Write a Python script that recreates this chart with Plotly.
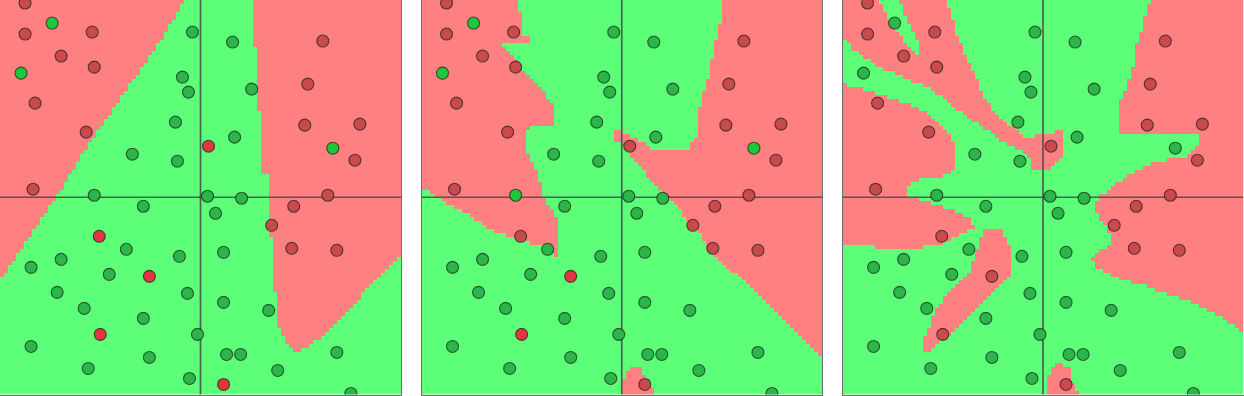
import numpy as np
import plotly.graph_objects as go

# ---------------- data ----------------
# sample points (same in all three panels); label 1 = red class, 0 = green class
pt_x = [-175, -148, -175, -108, -139, -106, -179, -165, -114, -68, -23, -8, -18, -12, -25,
        -167, -106, 8, 7, -57, -101, -74, -139, -169, -21, -91, -51, -143, -13, -116,
        -57, -100, -3, -169, -51, -112, -11, 32, 51, 34, 41, 122, 107, 104, 159,
        132, 154, 127, 15, 93, 71, 23, 91, 136, 23, 68, 26, 40, 136, 77, 23, 150]
pt_y = [194, 174, 163, 165, 141, 130, 124, 94, 65, 43, 36, 165, 120, 105, 75,
        8, 2, 51, 1, -9, -39, -52, -62, -70, -59, -77, -79, -95, -96, -111,
        -121, -137, -137, -149, -160, -171, -181, 155, 108, 60, -1, 156, 113, 72, 73,
        49, 37, 2, -16, -9, -28, -55, -51, -53, -105, -113, -157, -157, -155, -173, -187, -196]
pt_label = [1, 0, 1, 1, 1, 1, 0, 1, 1, 0, 0, 0, 0, 0, 0,
            1, 0, 1, 0, 0, 1, 0, 0, 0, 0, 0, 1, 0, 0, 0,
            0, 1, 0, 0, 0, 0, 0, 0, 0, 0, 0, 1, 1, 1, 1,
            0, 1, 1, 0, 1, 1, 0, 1, 1, 0, 0, 0, 0, 0, 0, 1, 0]

# decision regions (polygons predicted "red"), per panel
panel1_red = [
    [(-205, 202), (-17, 202), (-17, 197), (-27, 177), (-37, 160), (-50, 140), (-67, 117), (-83, 94),
     (-100, 70), (-113, 50), (-127, 27), (-143, 2), (-160, -23), (-180, -53), (-195, -75), (-205, -88)],
    [(52, 202), (205, 202), (205, -56), (200, -56), (187, -69), (173, -82), (160, -99), (147, -112),
     (133, -126), (120, -139), (110, -146), (100, -152), (97, -154), (92, -151), (87, -146), (82, -139),
     (77, -129), (77, -96), (72, -94), (72, -43), (68, -39), (67, -3), (67, 24), (62, 24), (62, 87),
     (57, 87), (57, 150), (52, 150)],
]
panel1_green = []

panel2_red = [
    [(-205, 202), (-103, 202), (-103, 197), (-100, 162), (-93, 160), (-93, 154), (-118, 154), (-118, 149),
     (-110, 141), (-100, 129), (-88, 117), (-75, 102), (-67, 89), (-67, 72), (-93, 70), (-97, 64),
     (-97, 47), (-87, 32), (-82, 17), (-78, 0), (-73, -8), (-67, -18), (-63, -28), (-63, -61),
     (-69, -61), (-71, -53), (-78, -49), (-93, -45), (-110, -40), (-127, -34), (-140, -26),
     (-153, -17), (-167, -11), (-180, -2), (-190, 2), (-195, 7), (-205, 7)],
    [(102, 202), (205, 202), (205, -164), (200, -159), (183, -142), (167, -126), (150, -109),
     (133, -94), (117, -79), (100, -66), (87, -52), (80, -39), (67, -26), (57, -12), (47, 1),
     (40, 4), (27, 20), (13, 37), (3, 50), (-7, 57), (-7, 66), (5, 64), (15, 57), (28, 50),
     (38, 46), (62, 46), (67, 50), (73, 57), (77, 70), (78, 90), (83, 109), (88, 127), (93, 154),
     (98, 174), (102, 197)],
    [(2, -202), (2, -183), (8, -170), (18, -170), (25, -181), (30, -190), (32, -202)],
]
panel2_green = []

panel3_red = [
    [(-205, 202), (-97, 202), (-97, 197), (-93, 187), (-90, 177), (-87, 164), (-80, 150), (-77, 140),
     (-73, 130), (-67, 120), (-63, 110), (-57, 97), (-47, 84), (-37, 74), (-27, 67), (-18, 60),
     (-2, 62), (10, 65), (17, 67), (22, 60), (22, 47), (17, 37), (10, 30), (0, 27), (-10, 29),
     (-13, 40), (-20, 47), (-33, 50), (-43, 57), (-53, 65), (-60, 70), (-70, 75), (-80, 84),
     (-90, 90), (-100, 99), (-110, 107), (-120, 112), (-133, 117), (-143, 122), (-157, 127),
     (-167, 132), (-177, 139), (-187, 145), (-193, 150), (-197, 157), (-205, 160)],
    [(-205, 115), (-193, 112), (-180, 109), (-167, 104), (-153, 100), (-140, 95), (-127, 90),
     (-117, 85), (-110, 80), (-103, 74), (-97, 65), (-90, 57), (-87, 50), (-87, 27), (-90, 27),
     (-100, 22), (-127, 17), (-137, 12), (-137, 2), (-130, -1), (-117, -4), (-107, -7), (-93, -12),
     (-80, -17), (-73, -22), (-68, -29), (-73, -32), (-82, -36), (-90, -39), (-100, -46),
     (-117, -47), (-120, -51), (-167, -51), (-167, -47), (-205, -46)],
    [(-57, -32), (-43, -32), (-38, -39), (-33, -47), (-33, -79), (-40, -86), (-47, -92), (-57, -102),
     (-67, -112), (-77, -122), (-87, -131), (-100, -142), (-110, -151), (-122, -154), (-118, -139),
     (-113, -126), (-107, -112), (-97, -99), (-87, -89), (-77, -79), (-72, -72), (-70, -62),
     (-67, -52), (-63, -42), (-60, -34)],
    [(107, 202), (205, 202), (205, -137), (200, -134), (183, -122), (167, -114), (150, -106),
     (133, -99), (117, -94), (100, -87), (77, -82), (67, -77), (53, -69), (48, -62), (53, -56),
     (67, -46), (67, -36), (60, -26), (53, -16), (53, -6), (57, 1), (60, 4), (67, 7), (73, 15),
     (90, 24), (100, 30), (120, 37), (137, 40), (147, 42), (147, 47), (157, 52), (157, 62),
     (78, 62), (78, 97), (83, 110), (90, 130), (93, 150), (97, 164), (100, 174), (103, 184), (107, 197)],
    [(2, -202), (3, -186), (8, -172), (13, -164), (20, -166), (27, -172), (28, -181), (33, -189), (37, -202)],
]
panel3_green = [
    [(-163, 202), (-143, 202), (-143, 197), (-140, 187), (-135, 177), (-130, 167), (-127, 160),
     (-123, 150), (-122, 140), (-124, 140), (-128, 144), (-133, 149), (-140, 157), (-147, 167),
     (-153, 177), (-160, 187), (-163, 197)],
]

panels = [(panel1_red, panel1_green), (panel2_red, panel2_green), (panel3_red, panel3_green)]

# ---------------- geometry / style ----------------
X_MIN, X_MAX = -200, 200
Y_MIN, Y_MAX = -197, 197
N_CELLS = 100
W, H = 1244, 396
panel_px = [(0, 401), (421.5, 822), (842.5, 1243.5)]
plot_bottom_px = 394.5

BG_RED = "#ff8080"
BG_GREEN = "#5dff79"
PT_COLORS = {(1, True): "#c84a4c", (1, False): "#e0363f",
             (0, True): "#2cb64a", (0, False): "#1ec83b"}


def inside(poly, X, Y):
    X = np.asarray(X, float)
    Y = np.asarray(Y, float)
    res = np.zeros(X.shape, bool)
    n = len(poly)
    for i in range(n):
        x1, y1 = poly[i]
        x2, y2 = poly[(i + 1) % n]
        cond = (y1 > Y) != (y2 > Y)
        with np.errstate(divide="ignore", invalid="ignore"):
            xint = (x2 - x1) * (Y - y1) / (y2 - y1 + 1e-12) + x1
        res ^= cond & (X < xint)
    return res


def predict(reds, greens, X, Y):
    Z = np.zeros(np.shape(X), int)
    for p in reds:
        Z[inside(p, X, Y)] = 1
    for p in greens:
        Z[inside(p, X, Y)] = 0
    return Z


cw = (X_MAX - X_MIN) / N_CELLS
ch = (Y_MAX - Y_MIN) / N_CELLS
gx = X_MIN + cw * (np.arange(N_CELLS) + 0.5)
gy = Y_MIN + ch * (np.arange(N_CELLS) + 0.5)
GX, GY = np.meshgrid(gx, gy)

fig = go.Figure()
layout = dict(width=W, height=H, margin=dict(l=0, r=0, t=0, b=0),
              paper_bgcolor="white", plot_bgcolor="white", showlegend=False)

for i, (reds, greens) in enumerate(panels):
    xa = "x" if i == 0 else f"x{i+1}"
    ya = "y" if i == 0 else f"y{i+1}"
    Z = predict(reds, greens, GX, GY)
    fig.add_trace(go.Heatmap(x=gx, y=gy, z=Z, zmin=0, zmax=1,
                             colorscale=[[0, BG_GREEN], [0.5, BG_GREEN], [0.5, BG_RED], [1, BG_RED]],
                             showscale=False, hoverinfo="skip", xaxis=xa, yaxis=ya))
    # crosshair through the origin
    fig.add_trace(go.Scatter(x=[0, 0], y=[Y_MIN, Y_MAX], mode="lines",
                             line=dict(color="rgba(70,70,70,0.85)", width=1.7),
                             hoverinfo="skip", xaxis=xa, yaxis=ya))
    fig.add_trace(go.Scatter(x=[X_MIN, X_MAX], y=[0, 0], mode="lines",
                             line=dict(color="rgba(70,70,70,0.85)", width=1.7),
                             hoverinfo="skip", xaxis=xa, yaxis=ya))
    pred = predict(reds, greens, np.array(pt_x), np.array(pt_y))
    cols = [PT_COLORS[(lab, bool(p == lab))] for lab, p in zip(pt_label, pred)]
    fig.add_trace(go.Scatter(x=pt_x, y=pt_y, mode="markers",
                             marker=dict(size=12, color=cols,
                                         line=dict(color="rgba(25,25,25,0.68)", width=1.1)),
                             hoverinfo="skip", xaxis=xa, yaxis=ya))

    x0, x1 = panel_px[i]
    axis_common = dict(showgrid=False, zeroline=False, showticklabels=False, ticks="",
                       showline=True, mirror=True, linecolor="#6e6e6e", linewidth=1,
                       layer="above traces", fixedrange=True)
    layout["xaxis" if i == 0 else f"xaxis{i+1}"] = dict(
        domain=[x0 / W, x1 / W], range=[X_MIN, X_MAX], anchor=ya, **axis_common)
    layout["yaxis" if i == 0 else f"yaxis{i+1}"] = dict(
        domain=[(H - plot_bottom_px) / H, 1], range=[Y_MIN, Y_MAX], anchor=xa, **axis_common)

fig.update_layout(**layout)
fig.write_html("out.html")
